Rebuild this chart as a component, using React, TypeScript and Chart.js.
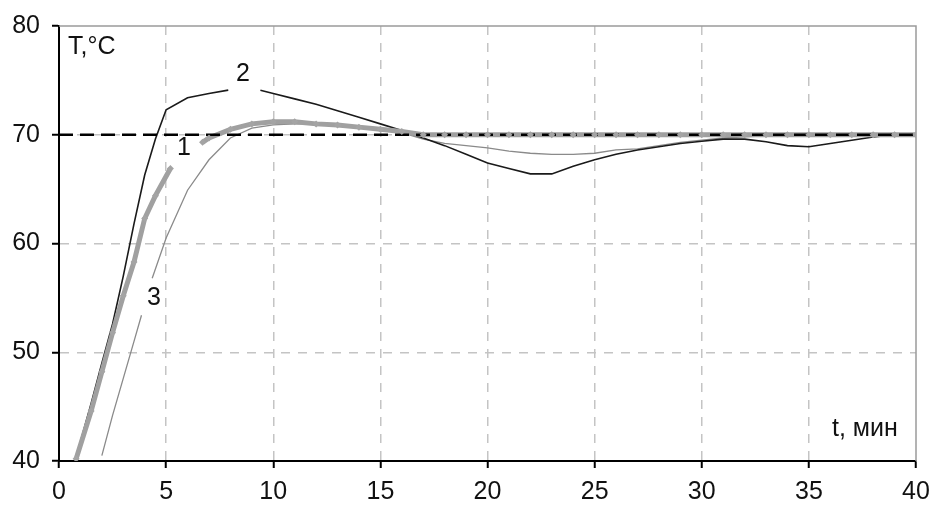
import { useEffect, useRef } from 'react';
import { Chart, registerables } from 'chart.js';

Chart.register(...registerables);

// Curve 1 (thick gray with markers); null = gap for the label
const curve1T = [0.8, 1.5, 2, 2.5, 3, 3.5, 4, 4.5, 5.2, 6, 6.7, 7, 8, 9, 10, 11, 12, 13, 14, 15, 16, 17, 18, 19, 20, 21, 22, 23, 24, 25, 26, 27, 28, 29, 30, 31, 32, 33, 34, 35, 36, 37, 38, 39, 40];
const curve1Y = [40.2, 44.6, 48.2, 51.8, 55.2, 58.3, 62.3, 64.4, 66.9, null, 69.3, 69.7, 70.5, 71.0, 71.2, 71.2, 71.0, 70.9, 70.7, 70.5, 70.3, 70.0, 70, 70, 70, 70, 70, 70, 70, 70, 70, 70, 70, 70, 70, 70, 70, 70, 70, 70, 70, 70, 70, 70, 70];

// Curve 2 (black)
const curve2T = [0.75, 1.5, 2, 2.5, 3, 3.5, 4, 4.5, 5, 6, 7, 7.9, 8.6, 9.4, 10, 11, 12, 13, 14, 15, 16, 17, 18, 19, 20, 21, 22, 23, 24, 25, 26, 27, 28, 29, 30, 31, 32, 33, 34, 35, 36, 37, 38, 39, 40];
const curve2Y = [40.0, 45.3, 49.0, 52.6, 57.0, 61.8, 66.3, 69.6, 72.3, 73.4, 73.8, 74.1, null, 74.1, 73.8, 73.3, 72.8, 72.2, 71.6, 71.0, 70.4, 69.7, 69.0, 68.2, 67.4, 66.9, 66.4, 66.4, 67.1, 67.7, 68.2, 68.6, 68.9, 69.2, 69.4, 69.6, 69.6, 69.35, 69.0, 68.9, 69.2, 69.5, 69.8, 70.0, 70.0];

// Curve 3 (thin gray)
const curve3T = [2, 2.5, 3, 3.5, 3.85, 4.1, 4.35, 5, 6, 7, 8, 9, 10, 11, 12, 13, 14, 15, 16, 17, 18, 19, 20, 21, 22, 23, 24, 25, 26, 27, 28, 29, 30, 31, 32, 33, 34, 35, 36, 37, 38, 39, 40];
const curve3Y = [40.5, 44.2, 47.6, 51.0, 53.4, null, 56.8, 60.5, 64.9, 67.7, 69.7, 70.6, 70.9, 71.0, 71.0, 70.9, 70.7, 70.5, 70.2, 69.6, 69.2, 69.0, 68.8, 68.5, 68.3, 68.2, 68.2, 68.3, 68.6, 68.7, 69.0, 69.3, 69.5, 69.7, 69.8, 69.9, 70.0, 70.0, 70.0, 70.0, 70.0, 70.0, 70.0];

// Setpoint line
const setpointT = [0, 40];
const setpointY = [70, 70];

const xTicks = [0, 5, 10, 15, 20, 25, 30, 35, 40];
const yTicks = [40, 50, 60, 70, 80];

// Text annotations: [text, x, y, align]
const annotations: [string, number, number, CanvasTextAlign][] = [
  ['T,°C', 0.42, 78.1, 'left'],
  ['1', 5.83, 68.8, 'center'],
  ['2', 8.59, 75.6, 'center'],
  ['3', 4.43, 55.0, 'center'],
  ['t, мин', 39.15, 42.9, 'right'],
];

const pts = (t: number[], y: (number | null)[]) => t.map((x, i) => ({ x, y: y[i] }));

const FONT = '"Liberation Sans", Arial, sans-serif';

export default function App() {
  const ref = useRef<HTMLCanvasElement | null>(null);

  useEffect(() => {
    if (!ref.current) return;
    const framePlugin = {
      id: 'frame',
      beforeDatasetsDraw(chart: any) {
        const { ctx, chartArea } = chart;
        ctx.save();
        ctx.strokeStyle = '#9a9a9a';
        ctx.lineWidth = 1.5;
        ctx.beginPath();
        ctx.moveTo(chartArea.left, chartArea.top);
        ctx.lineTo(chartArea.right, chartArea.top);
        ctx.lineTo(chartArea.right, chartArea.bottom);
        ctx.stroke();
        ctx.restore();
      },
      afterDatasetsDraw(chart: any) {
        const { ctx, scales } = chart;
        ctx.save();
        ctx.fillStyle = '#111';
        ctx.textBaseline = 'middle';
        ctx.font = `25px ${FONT}`;
        for (const [txt, x, y, align] of annotations) {
          ctx.textAlign = align;
          ctx.fillText(txt, scales.x.getPixelForValue(x), scales.y.getPixelForValue(y));
        }
        ctx.restore();
      },
    };

    const chart = new Chart(ref.current, {
      type: 'line',
      data: {
        datasets: [
          {
            data: pts(curve1T, curve1Y),
            showLine: false,
            pointStyle: 'rectRot',
            pointRadius: 3.5,
            pointBackgroundColor: '#a4a4a4',
            pointBorderColor: '#a4a4a4',
            pointBorderWidth: 0,
            order: 0,
          } as any,
          {
            data: pts(setpointT, setpointY),
            borderColor: '#000',
            borderWidth: 2.5,
            borderDash: [14, 7],
            pointRadius: 0,
            order: 1,
          },
          {
            data: pts(curve1T, curve1Y),
            borderColor: '#a0a0a0',
            borderWidth: 5,
            pointRadius: 0,
            spanGaps: false,
            order: 2,
          },
          {
            data: pts(curve2T, curve2Y),
            borderColor: '#1a1a1a',
            borderWidth: 1.6,
            pointRadius: 0,
            spanGaps: false,
            order: 3,
          },
          {
            data: pts(curve3T, curve3Y),
            borderColor: '#8a8a8a',
            borderWidth: 1.3,
            pointRadius: 0,
            spanGaps: false,
            order: 4,
          },
        ],
      },
      options: {
        responsive: false,
        animation: false,
        layout: { padding: { left: 0, top: 26, right: 15, bottom: 0 } },
        plugins: { legend: { display: false }, tooltip: { enabled: false } },
        elements: { line: { tension: 0 } },
        scales: {
          x: {
            type: 'linear',
            min: 0,
            max: 40,
            afterFit: (s: any) => { s.height = 45; s.paddingLeft = 0; s.paddingRight = 0; },
            afterBuildTicks: (s: any) => { s.ticks = xTicks.map((v) => ({ value: v })); },
            ticks: {
              color: '#111',
              font: { family: FONT, size: 25 },
              padding: 9,
              maxRotation: 0,
              autoSkip: false,
            },
            grid: {
              color: (c: any) => (c.tick && (c.tick.value === 0 || c.tick.value === 40) ? 'rgba(0,0,0,0)' : '#c4c4c4'),
              lineWidth: 1.5,
              tickColor: '#000',
              tickLength: 7,
              tickWidth: 2,
            },
            border: { color: '#000', width: 2, dash: [9, 8] },
          },
          y: {
            type: 'linear',
            min: 40,
            max: 80,
            afterFit: (s: any) => { s.width = 59; s.paddingTop = 0; s.paddingBottom = 0; },
            afterBuildTicks: (s: any) => { s.ticks = yTicks.map((v) => ({ value: v })); },
            ticks: {
              color: '#111',
              font: { family: FONT, size: 25 },
              padding: 12,
              autoSkip: false,
            },
            grid: {
              color: (c: any) => (c.tick && (c.tick.value === 40 || c.tick.value === 80) ? 'rgba(0,0,0,0)' : '#c4c4c4'),
              lineWidth: 1.5,
              tickColor: '#000',
              tickLength: 7,
              tickWidth: 2,
            },
            border: { color: '#000', width: 2, dash: [9, 8] },
          },
        },
      } as any,
      plugins: [framePlugin],
    });
    return () => chart.destroy();
  }, []);

  return (
    <div style={{ position: 'fixed', left: 0, top: 0, width: 931, height: 506, background: '#fff' }}>
      <canvas ref={ref} width={931} height={506} style={{ width: 931, height: 506 }} />
    </div>
  );
}
